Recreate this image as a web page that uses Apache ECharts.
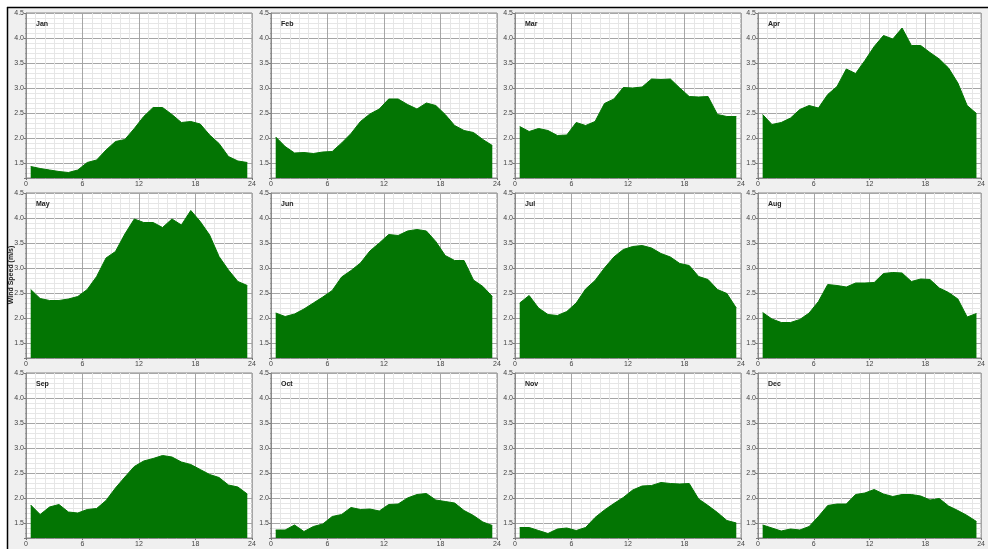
<!DOCTYPE html>
<html>
<head>
<meta charset="utf-8">
<script src="https://cdn.jsdelivr.net/npm/echarts@6/dist/echarts.min.js"></script>
<style>
  html, body { margin: 0; padding: 0; background: #fff; }
  #chartBox { width: 988px; height: 549px; }
</style>
</head>
<body>
<div id="chartBox"></div>
<script>
// hour of day (centre of each hourly bin)
const hours = [0.5, 1.5, 2.5, 3.5, 4.5, 5.5, 6.5, 7.5, 8.5, 9.5, 10.5, 11.5,
  12.5, 13.5, 14.5, 15.5, 16.5, 17.5, 18.5, 19.5, 20.5, 21.5, 22.5, 23.5];
const months = ["Jan", "Feb", "Mar", "Apr", "May", "Jun", "Jul", "Aug", "Sep", "Oct", "Nov", "Dec"];
const xTicks = [0, 6, 12, 18, 24];

// mean wind speed (m/s) per hour
const jan = [1.43, 1.39, 1.36, 1.33, 1.31, 1.36, 1.51, 1.56, 1.76, 1.93, 1.97, 2.19,
  2.43, 2.61, 2.61, 2.47, 2.31, 2.33, 2.28, 2.06, 1.89, 1.63, 1.54, 1.51];
const feb = [2.02, 1.83, 1.70, 1.71, 1.69, 1.72, 1.73, 1.90, 2.09, 2.33, 2.48, 2.58,
  2.78, 2.78, 2.67, 2.58, 2.70, 2.65, 2.47, 2.25, 2.15, 2.11, 1.97, 1.85];
const mar = [2.23, 2.13, 2.19, 2.15, 2.05, 2.06, 2.31, 2.25, 2.33, 2.69, 2.78, 3.01,
  3.00, 3.02, 3.18, 3.17, 3.18, 3.00, 2.83, 2.82, 2.83, 2.47, 2.43, 2.43];
const apr = [2.47, 2.27, 2.31, 2.40, 2.57, 2.65, 2.60, 2.87, 3.03, 3.38, 3.29, 3.55,
  3.83, 4.05, 3.98, 4.20, 3.85, 3.85, 3.71, 3.58, 3.40, 3.10, 2.65, 2.49];
const may = [2.57, 2.39, 2.35, 2.35, 2.38, 2.43, 2.57, 2.83, 3.20, 3.33, 3.68, 3.98,
  3.91, 3.91, 3.81, 3.98, 3.86, 4.15, 3.93, 3.66, 3.23, 2.96, 2.73, 2.65];
const jun = [2.10, 2.03, 2.08, 2.18, 2.30, 2.42, 2.55, 2.82, 2.95, 3.10, 3.34, 3.50,
  3.67, 3.65, 3.74, 3.77, 3.74, 3.53, 3.25, 3.15, 3.15, 2.76, 2.63, 2.43];
const jul = [2.30, 2.45, 2.20, 2.07, 2.05, 2.13, 2.30, 2.58, 2.75, 3.00, 3.22, 3.37,
  3.43, 3.45, 3.40, 3.29, 3.22, 3.09, 3.05, 2.83, 2.77, 2.57, 2.49, 2.20];
const aug = [2.11, 1.98, 1.91, 1.91, 1.97, 2.10, 2.33, 2.67, 2.65, 2.62, 2.70, 2.70,
  2.71, 2.89, 2.91, 2.90, 2.73, 2.78, 2.77, 2.60, 2.51, 2.38, 2.02, 2.09];
const sep = [1.86, 1.67, 1.82, 1.87, 1.72, 1.70, 1.77, 1.79, 1.95, 2.20, 2.42, 2.63,
  2.74, 2.79, 2.85, 2.82, 2.72, 2.67, 2.57, 2.47, 2.41, 2.26, 2.22, 2.08];
const oct = [1.36, 1.36, 1.46, 1.33, 1.43, 1.48, 1.63, 1.67, 1.81, 1.77, 1.78, 1.74,
  1.87, 1.88, 2.00, 2.07, 2.09, 1.96, 1.93, 1.90, 1.75, 1.65, 1.52, 1.45];
const nov = [1.41, 1.41, 1.35, 1.29, 1.38, 1.40, 1.35, 1.41, 1.61, 1.76, 1.89, 2.01,
  2.16, 2.24, 2.25, 2.31, 2.29, 2.28, 2.29, 1.98, 1.85, 1.71, 1.55, 1.50];
const dec = [1.46, 1.40, 1.34, 1.38, 1.36, 1.43, 1.63, 1.85, 1.88, 1.88, 2.07, 2.10,
  2.17, 2.08, 2.03, 2.07, 2.07, 2.04, 1.96, 1.99, 1.84, 1.75, 1.65, 1.53];

const allData = [jan, feb, mar, apr, may, jun, jul, aug, sep, oct, nov, dec];

// panel layout
const colLeft = [26, 271, 515, 758];
const rowTop = [13, 193, 373];
const plotW = 226, plotH = 165;
const green = "#037503";
const fontFam = "Liberation Sans, Arial, sans-serif";

var myChart = echarts.init(document.getElementById("chartBox"));

let grids = [], xAxes = [], yAxes = [], seriesList = [], titles = [];
months.forEach((m, i) => {
  let c = i % 4, r = Math.floor(i / 4);
  grids.push({
    left: colLeft[c], top: rowTop[r], width: plotW, height: plotH,
    show: true, backgroundColor: "#fff", borderColor: "#8a8a8a", borderWidth: 1,
  });
  titles.push({
    text: m, left: colLeft[c] + 5, top: rowTop[r] + 3,
    textStyle: { fontSize: 7, fontWeight: "bold", color: "#222", fontFamily: fontFam },
  });
  xAxes.push({
    type: "value", gridIndex: i, min: xTicks[0], max: xTicks[xTicks.length - 1], interval: 6,
    axisLine: { show: true, lineStyle: { color: "#8a8a8a" } },
    axisTick: { show: true, length: 2, lineStyle: { color: "#777" } },
    minorTick: { show: true, splitNumber: 6, length: 1, lineStyle: { color: "#999" } },
    axisLabel: { fontSize: 7, color: "#444", margin: 3, fontFamily: fontFam },
    splitLine: { show: true, lineStyle: { color: "#a6a6a6", width: 1 } },
    minorSplitLine: { show: true, lineStyle: { color: "#e6e6e6", width: 1 } },
  });
  yAxes.push({
    type: "value", gridIndex: i, min: 1.2, max: 4.5, splitNumber: 7,
    axisLine: { show: true, lineStyle: { color: "#8a8a8a" } },
    axisTick: { show: true, length: 2, lineStyle: { color: "#777" } },
    minorTick: { show: true, splitNumber: 5, length: 1, lineStyle: { color: "#999" } },
    axisLabel: {
      fontSize: 7, color: "#444", margin: 2, fontFamily: fontFam, showMinLabel: false,
      formatter: (v) => v.toFixed(1),
    },
    splitLine: { show: true, lineStyle: { color: "#a6a6a6", width: 1 } },
    minorSplitLine: { show: true, lineStyle: { color: "#e6e6e6", width: 1 } },
  });
  seriesList.push({
    type: "line", xAxisIndex: i, yAxisIndex: i,
    data: hours.map((h, j) => [h, allData[i][j]]),
    symbol: "none", silent: true,
    lineStyle: { color: green, width: 1 },
    areaStyle: { color: green, opacity: 1, origin: "start" },
  });
});

var option = {
  backgroundColor: "#f0f0f0",
  animation: false,
  title: titles,
  grid: grids,
  xAxis: xAxes,
  yAxis: yAxes,
  series: seriesList,
  graphic: [
    { type: "rect", shape: { x: 0, y: 0, width: 988, height: 7 }, style: { fill: "#fff" }, z: 100 },
    { type: "rect", shape: { x: 0, y: 0, width: 7, height: 549 }, style: { fill: "#fff" }, z: 100 },
    { type: "line", shape: { x1: 7, y1: 7.5, x2: 988, y2: 7.5 }, style: { stroke: "#000", lineWidth: 1.5 }, z: 101 },
    { type: "line", shape: { x1: 7.5, y1: 7, x2: 7.5, y2: 549 }, style: { stroke: "#000", lineWidth: 1.5 }, z: 101 },
    {
      type: "text", x: 11.5, y: 275, rotation: Math.PI / 2, z: 102,
      style: {
        text: "Wind Speed (m/s)", fill: "#222", align: "center", verticalAlign: "middle",
        font: "bold 7px Liberation Sans, Arial, sans-serif",
      },
    },
  ],
};
myChart.setOption(option);
</script>
</body>
</html>
